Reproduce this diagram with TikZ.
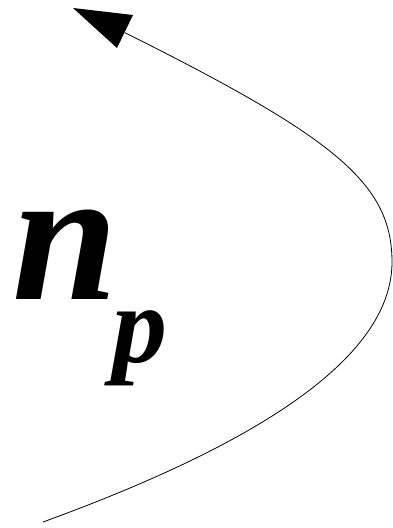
\documentclass[tikz,border=0pt]{standalone}
\usepackage{fontspec}
\setmainfont{Liberation Serif}
\begin{document}
\begin{tikzpicture}[x=1pt,y=-1pt,
  lbl/.style={inner sep=0pt, anchor=base west, font=\bfseries\itshape}]
\useasboundingbox (0,0) rectangle (393,528);
\coordinate (s) at (43,522);
\coordinate (v) at (392,262);
\coordinate (b) at (125,32.7);
\coordinate (t) at (73,8);
\draw[line width=0.8pt] (s) .. controls (275.7,437.3) and (392,351.3) .. (v)
  .. controls (392,183) and (334.4,137.4) .. (b);
\fill (t) -- (133,15) -- (117,48) -- cycle;
\node[lbl, font=\bfseries\itshape\fontsize{190}{190}\selectfont] (n) at (12,299) {n};
\node[lbl, font=\bfseries\itshape\fontsize{110}{110}\selectfont] (p) at (112,362) {p};
\end{tikzpicture}
\end{document}
